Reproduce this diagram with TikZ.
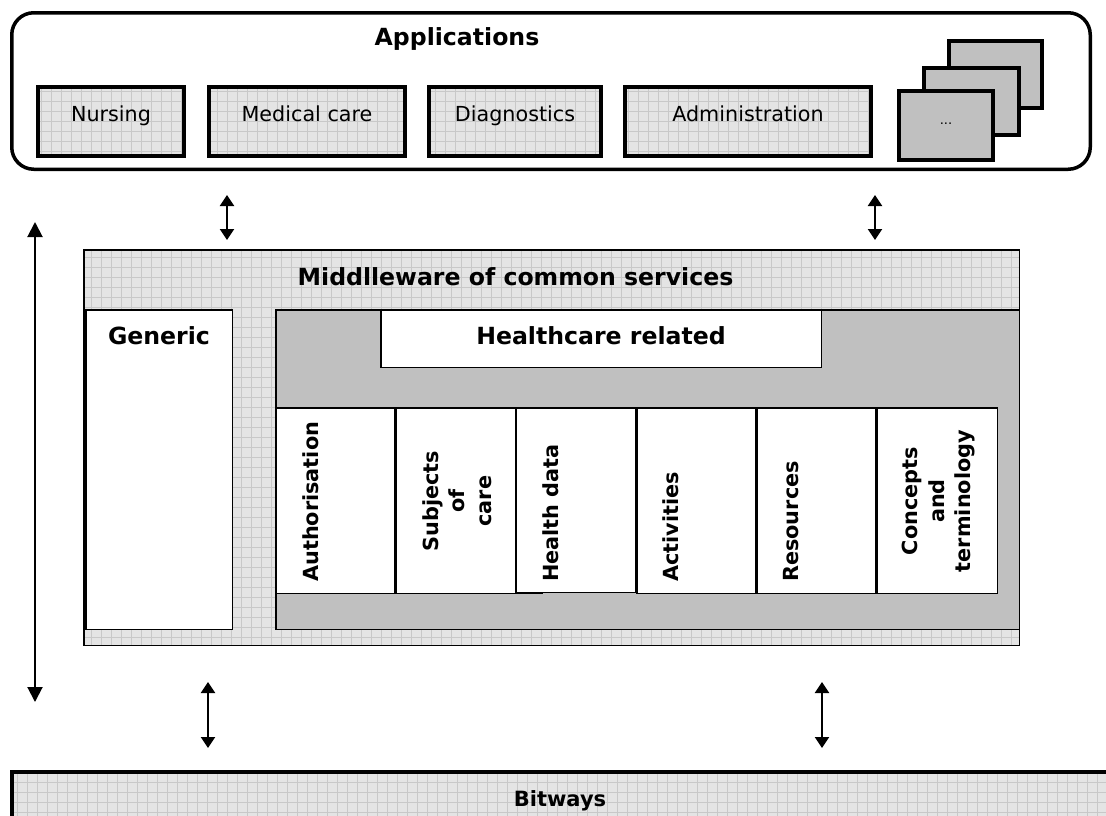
\documentclass[tikz,border=0pt]{standalone}
\usepackage{fontspec}
\setmainfont{DejaVu Sans}
\usetikzlibrary{arrows.meta}
\definecolor{gridbg}{HTML}{E4E4E4}
\definecolor{gridln}{HTML}{C8C8C8}
\definecolor{midgray}{HTML}{C0C0C0}
\begin{document}
\begin{tikzpicture}[x=1pt,y=-1pt,
  gridfill/.style={fill=gridbg, path picture={\draw[gridln, line width=0.8pt, step=10pt] (path picture bounding box.south west) grid (path picture bounding box.north east);}},
  box/.style={draw=black, rectangle, inner sep=0pt, outer sep=0pt},
  appbox/.style={box, gridfill, line width=4pt, minimum height=69pt},
  stackbox/.style={box, fill=midgray, line width=4pt},
  thinbox/.style={box, line width=1.5pt},
  colbox/.style={thinbox, fill=white, minimum height=185.5pt},
  head/.style={font=\fontsize{23.6}{28}\selectfont\bfseries, inner sep=0pt, anchor=base},
  apptext/.style={font=\fontsize{20.7}{25}\selectfont, inner sep=0pt, anchor=base},
  coltext/.style={font=\fontsize{20.8}{26.5}\selectfont\bfseries, inner sep=0pt, rotate=90},
  conn/.style={line width=2pt, {Triangle[width=14pt,length=11pt]}-{Triangle[width=14pt,length=11pt]}},
  longconn/.style={line width=2pt, {Triangle[width=15pt,length=15pt]}-{Triangle[width=15pt,length=15pt]}},
]
\useasboundingbox (0,0) rectangle (1106,815);
\fill[white] (0,0) rectangle (1106,815);
\clip (0,0) rectangle (1106,815);

% Applications
\node[box, line width=3.5pt, rounded corners=22pt, minimum width=1078.5pt, minimum height=156.5pt] (apps) at (551,91) {};
\node[head] (apps-t) at (457,45) {Applications};
\node[appbox, minimum width=146pt] (nursing) at (111,121.5) {};
\node[apptext] (nursing-t) at (111,121) {Nursing};
\node[appbox, minimum width=196pt] (medical) at (307,121.5) {};
\node[apptext] (medical-t) at (307,121) {Medical care};
\node[appbox, minimum width=172pt] (diag) at (515,121.5) {};
\node[apptext] (diag-t) at (515,121) {Diagnostics};
\node[appbox, minimum width=246pt] (admin) at (748,121.5) {};
\node[apptext] (admin-t) at (748,121) {Administration};
\node[stackbox, minimum width=93pt, minimum height=67pt] (back) at (995.5,74.5) {};
\node[stackbox, minimum width=95pt, minimum height=67pt] (middle) at (971.5,101.5) {};
\node[stackbox, minimum width=94pt, minimum height=69pt] (front) at (946,125.5) {};
\node[font=\fontsize{13}{15}\selectfont, inner sep=0pt, anchor=base] (front-t) at (946,124) {...};

% Middleware
\node[thinbox, gridfill, minimum width=935.5pt, minimum height=395.5pt] (mw) at (551.5,447.5) {};
\node[head] (mw-t) at (515.5,285) {Middlleware of common services};
\node[thinbox, fill=white, minimum width=146.5pt, minimum height=319.5pt] (generic) at (159,469.5) {};
\node[head] (generic-t) at (159,344) {Generic};
\node[thinbox, fill=midgray, minimum width=743.5pt, minimum height=319.5pt] (hc) at (647.5,469.5) {};
\node[thinbox, fill=white, minimum width=440.5pt, minimum height=57.5pt] (hcr) at (601,338.5) {};
\node[head] (hcr-t) at (601,344) {Healthcare related};

% Columns
\node[colbox, minimum width=118.5pt] (auth) at (335,500.5) {};
\node[colbox, minimum width=146.5pt] (subj) at (469,500.5) {};
\node[colbox, minimum width=119.5pt, minimum height=184.5pt] (hdata) at (575.5,500) {};
\node[colbox, minimum width=118.5pt] (act) at (696,500.5) {};
\node[colbox, minimum width=118.5pt] (res) at (816,500.5) {};
\node[colbox, minimum width=120.5pt] (conc) at (937,500.5) {};
\node[coltext, text height=15.8pt, anchor=north west] (auth-t) at (302,582) {Authorisation};
\node[coltext, align=center, anchor=north] (subj-t) at (422,501) {Subjects\\of\\care};
\node[coltext, text height=15.8pt, anchor=north west] (hdata-t) at (542,582) {Health data};
\node[coltext, text height=15.8pt, anchor=north west] (act-t) at (662,582) {Activities};
\node[coltext, text height=15.8pt, anchor=north west] (res-t) at (782,582) {Resources};
\node[coltext, align=center, anchor=north] (conc-t) at (902,501) {Concepts\\and\\terminology};

% Bitways
\node[box, gridfill, line width=4pt, minimum width=1130pt, minimum height=80pt, anchor=north west] (bitways) at (12,772) {};
\node[font=\fontsize{21}{25}\selectfont\bfseries, inner sep=0pt, anchor=base] (bitways-t) at (560,806) {Bitways};

% Connectors
\coordinate (L1) at (35,222);
\coordinate (L2) at (35,702);
\draw[longconn] (L1) -- (L2);
\coordinate (a1t) at (227,195);
\coordinate (a1b) at (227,240);
\draw[conn] (a1t) -- (a1b);
\coordinate (a2t) at (875,195);
\coordinate (a2b) at (875,240);
\draw[conn] (a2t) -- (a2b);
\coordinate (b1t) at (208,682);
\coordinate (b1b) at (208,748);
\draw[conn] (b1t) -- (b1b);
\coordinate (b2t) at (822,682);
\coordinate (b2b) at (822,748);
\draw[conn] (b2t) -- (b2b);
\end{tikzpicture}
\end{document}
